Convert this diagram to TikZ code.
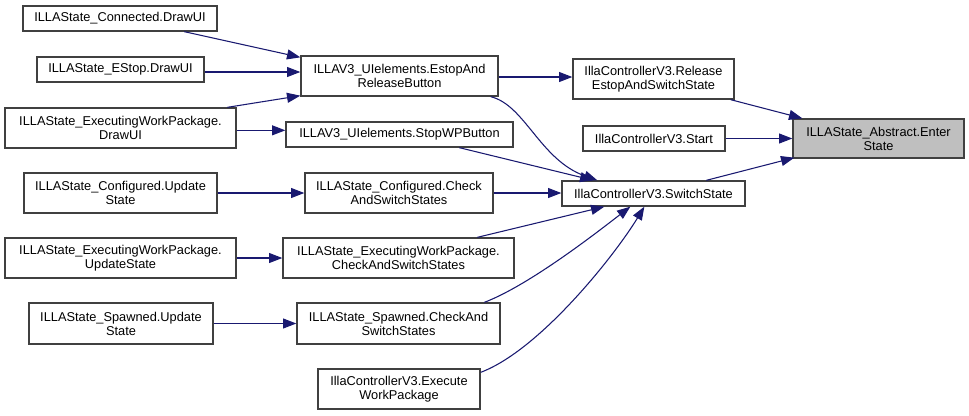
\documentclass[tikz,border=0pt]{standalone}
\usepackage{fontspec}
\setmainfont{Liberation Sans}
\usetikzlibrary{arrows.meta,calc}
\definecolor{edgec}{HTML}{191970}
\definecolor{boxline}{HTML}{404040}
\definecolor{hl}{HTML}{BFBFBF}
\tikzset{
  box/.style={draw=boxline, line width=1pt, fill=white, inner sep=0pt, align=center,
    font=\fontsize{9.6}{10.6}\selectfont},
  edge/.style={draw=edgec, line width=0.8pt, -{Triangle[length=10pt,width=7.5pt]}},
}
\newcommand{\bx}[7][]{%
  \node[box,#1, minimum width={(#5-#3)*0.75pt}, minimum height={(#6-#4)*0.75pt}]
    (#2) at ({(#3+#5)/2},{(#4+#6)/2}) {#7};}
\begin{document}
\begin{tikzpicture}[x=0.75pt,y=-0.75pt]
\useasboundingbox (0,0) rectangle (969,415);
% left column
\bx{conn}{23}{6}{217}{31}{ILLAState\_Connected.DrawUI}
\bx{estop}{37}{57}{204}{82}{ILLAState\_EStop.DrawUI}
\bx{ewpdraw}{5}{108}{236}{148}{ILLAState\_ExecutingWorkPackage.\\DrawUI}
\bx{confupd}{24}{173}{217}{213}{ILLAState\_Configured.Update\\State}
\bx{ewpupd}{5}{238}{236}{278}{ILLAState\_ExecutingWorkPackage.\\UpdateState}
\bx{spupd}{29}{303}{213}{344}{ILLAState\_Spawned.Update\\State}
% middle column
\bx{era}{301}{56}{498}{96}{ILLAV3\_UIelements.EstopAnd\\ReleaseButton}
\bx{stopwp}{286}{122}{513}{147}{ILLAV3\_UIelements.StopWPButton}
\bx{confchk}{305}{173}{493}{213}{ILLAState\_Configured.Check\\AndSwitchStates}
\bx{ewpchk}{283}{238}{514}{278}{ILLAState\_ExecutingWorkPackage.\\CheckAndSwitchStates}
\bx{spchk}{297}{303}{500}{344}{ILLAState\_Spawned.CheckAnd\\SwitchStates}
\bx{exec}{318}{369}{480}{409}{IllaControllerV3.Execute\\WorkPackage}
% right column
\bx{rel}{573}{59}{734}{99}{IllaControllerV3.Release\\EstopAndSwitchState}
\bx{start}{583}{126}{725}{151}{IllaControllerV3.Start}
\bx{sw}{562}{181}{745}{206}{IllaControllerV3.SwitchState}
\bx[fill=hl]{enter}{793}{119}{964}{158}{ILLAState\_Abstract.Enter\\State}
% edges
\draw[edge] ($(conn.south west)+(162,0)$) -- ($(era.north west)+(0,2)$);
\draw[edge] ($(estop.east)+(0,2.5)$) -- ($(era.west |- estop.east)+(0,2.5)$);
\draw[edge] ($(ewpdraw.north west)+(223,0)$) -- ($(era.south west)+(0,-1)$);
\draw[edge] ($(ewpdraw.north east)+(0,23)$) -- ($(stopwp.north west)+(0,9)$);
\draw[edge] (confupd.east) -- (confchk.west);
\draw[edge] (ewpupd.east) -- (ewpchk.west);
\draw[edge] (spupd.east) -- (spupd.east -| spchk.west);
\draw[edge] ($(era.east)+(0,1)$) -- ($(rel.west |- era.east)+(0,1)$);
\draw[edge] ($(era.south east)+(-8,0)$) .. controls (525,105) and (540,160) .. ($(sw.north west)+(36,0)$);
\draw[edge] ($(stopwp.south west)+(174,0)$) -- ($(sw.north west)+(32,0)$);
\draw[edge] (confchk.east) -- (confchk.east -| sw.west);
\draw[edge] ($(ewpchk.north west)+(195,0)$) -- ($(sw.south west)+(43,0)$);
\draw[edge] ($(spchk.north west)+(188,0)$) .. controls (530,285) and (600,230) .. ($(sw.south west)+(69,0)$);
\draw[edge] ($(exec.north east)+(0,4)$) .. controls (540,350) and (615,255) .. ($(sw.south west)+(83,0)$);
\draw[edge] ($(rel.south east)+(-4,0)$) -- ($(enter.north west)+(10,0)$);
\draw[edge] (start.east) -- (start.east -| enter.west);
\draw[edge] ($(sw.north west)+(145,0)$) -- ($(enter.south west)+(2,-1)$);
\end{tikzpicture}
\end{document}
